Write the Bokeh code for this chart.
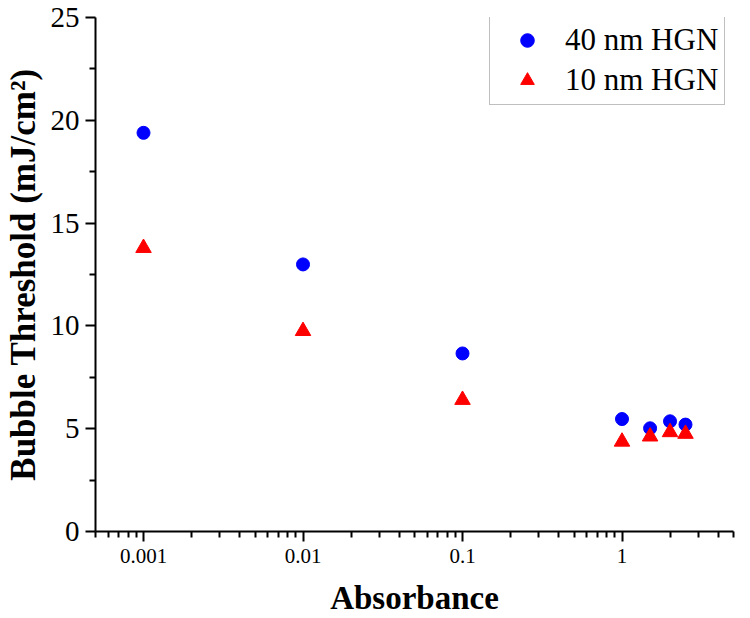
from bokeh.plotting import figure
from bokeh.models import (ColumnDataSource, FixedTicker, CustomJSTickFormatter,
                          Legend, LegendItem, Range1d)
from bokeh.embed import file_html
from bokeh.resources import INLINE

# Data
absorbance_40 = [0.001, 0.01, 0.1, 1.0, 1.5, 2.0, 2.5]
threshold_40 = [19.39, 12.99, 8.66, 5.47, 5.02, 5.36, 5.20]
absorbance_10 = [0.001, 0.01, 0.1, 1.0, 1.5, 2.0, 2.5]
threshold_10 = [13.79, 9.75, 6.40, 4.37, 4.62, 4.83, 4.75]
series_names = ["40 nm HGN", "10 nm HGN"]
x_ticks = [0.001, 0.01, 0.1, 1]
y_ticks = [0, 5, 10, 15, 20, 25]

FONT = "Liberation Serif"

p = figure(width=750, height=618, x_axis_type="log",
           x_range=Range1d(0.0005, 5), y_range=Range1d(0, 25),
           output_backend="svg", toolbar_location=None,
           min_border_left=95, min_border_right=17,
           min_border_top=17, min_border_bottom=87)
p.outline_line_color = None
p.xgrid.visible = False
p.ygrid.visible = False
p.background_fill_color = "white"
p.border_fill_color = "white"

src40 = ColumnDataSource(dict(x=absorbance_40, y=threshold_40))
src10 = ColumnDataSource(dict(x=absorbance_10, y=threshold_10))
r40 = p.scatter("x", "y", source=src40, marker="circle", size=13,
                fill_color="#0000FF", line_color="#0000FF")
r10 = p.scatter("x", "y", source=src10, marker="triangle", size=15.5,
                fill_color="#FF0000", line_color="#FF0000")

# X axis
minor_x = []
for dec in [0.0001, 0.001, 0.01, 0.1, 1]:
    for m in range(2, 10):
        v = m * dec
        if 0.0005 <= v <= 5.0001:
            minor_x.append(v)
p.xaxis.ticker = FixedTicker(ticks=x_ticks, minor_ticks=minor_x)
p.xaxis.formatter = CustomJSTickFormatter(code="return String(tick);")
p.xaxis.axis_label = "Absorbance"

# Y axis
p.yaxis.ticker = FixedTicker(ticks=y_ticks, minor_ticks=[2.5, 7.5, 12.5, 17.5, 22.5])
p.yaxis.axis_label = "Bubble Threshold (mJ/cm²)"

for ax in [p.xaxis[0], p.yaxis[0]]:
    ax.axis_line_width = 2
    ax.axis_line_color = "black"
    ax.major_tick_line_width = 2
    ax.minor_tick_line_width = 2
    ax.major_tick_line_color = "black"
    ax.minor_tick_line_color = "black"
    ax.major_tick_in = 0
    ax.major_tick_out = 10
    ax.minor_tick_in = 0
    ax.minor_tick_out = 6
    ax.major_label_text_font = FONT
    ax.major_label_text_color = "black"
    ax.axis_label_text_font = FONT
    ax.axis_label_text_font_style = "bold"
    ax.axis_label_text_color = "black"

p.xaxis.major_label_text_font_size = "21px"
p.xaxis.major_label_standoff = 7
p.xaxis.axis_label_text_font_size = "33px"
p.xaxis.axis_label_standoff = 14

p.yaxis.major_label_text_font_size = "29px"
p.yaxis.major_label_standoff = 6
p.yaxis.axis_label_text_font_size = "35px"
p.yaxis.axis_label_standoff = 5

legend = Legend(items=[LegendItem(label=series_names[0], renderers=[r40]),
                       LegendItem(label=series_names[1], renderers=[r10])],
                location=(394, 426))
legend.margin = 0
legend.padding = 6
legend.spacing = 4
legend.glyph_width = 62
legend.glyph_height = 34
legend.label_height = 34
legend.label_standoff = 7
legend.label_text_font = FONT
legend.label_text_font_size = "31px"
legend.label_text_color = "black"
legend.border_line_color = "#808080"
legend.border_line_width = 1
legend.background_fill_color = "white"
legend.background_fill_alpha = 1
p.add_layout(legend, "center")

open("out.html", "w").write(file_html(p, INLINE))
